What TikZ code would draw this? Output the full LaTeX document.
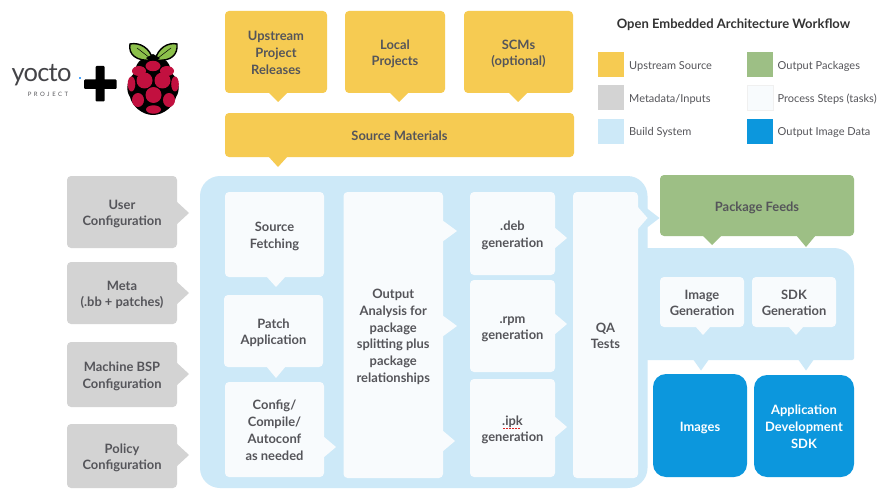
\documentclass[tikz,border=0pt]{standalone}
\usepackage{fontspec}
\setmainfont{Lato}
\usetikzlibrary{calc}
\definecolor{cyellow}{HTML}{F6CB52}
\definecolor{cgray}{HTML}{D3D3D3}
\definecolor{cblue}{HTML}{CDE9F8}
\definecolor{cwhite}{HTML}{F8FBFD}
\definecolor{cgreen}{HTML}{9DBF85}
\definecolor{cimg}{HTML}{0C97DD}
\definecolor{ctxt}{HTML}{55555A}
\definecolor{cleaf}{HTML}{8CC04B}
\definecolor{cberry}{HTML}{C2103F}
\definecolor{cspell}{HTML}{E02020}
\tikzset{
  x=1pt,y=-1pt,
  boxbase/.style={rounded corners=4pt,inner sep=0pt,align=center,text=ctxt,
    font=\fontsize{12.9}{16.8}\selectfont\bfseries},
  yellowbox/.style={boxbase,fill=cyellow},
  graybox/.style={boxbase,fill=cgray},
  whitebox/.style={boxbase,fill=cwhite},
  greenbox/.style={boxbase,fill=cgreen},
  imgbox/.style={boxbase,fill=cimg,text=white,rounded corners=13pt},
  swatch/.style={inner sep=0pt,minimum width=26pt,minimum height=25pt},
  legtext/.style={anchor=west,inner sep=0pt,text=ctxt,font=\fontsize{11}{13}\selectfont},
}
\newcommand{\boxtext}[1]{\raisebox{-5.2pt}[0pt][0pt]{\begin{tabular}{@{}c@{}}#1\end{tabular}}}
% name, x1, y1, x2, y2, style, text
\newcommand{\cbox}[7]{\node[#6,minimum width={(#4-#2)*1pt},minimum height={(#5-#3)*1pt}] (#1) at ({(#2+#4)/2},{(#3+#5)/2}) {\boxtext{#7}};}
% pointer down: colour, x, ybase, ytip, half width
\newcommand{\pdown}[5]{\fill[#1] (#2-#5,#3) -- (#2,#4) -- (#2+#5,#3) -- cycle;}
% pointer right: colour, xbase, xtip, y, half width
\newcommand{\pright}[5]{\fill[#1] (#2,#4-#5) -- (#3,#4) -- (#2,#4+#5) -- cycle;}
\begin{document}
\begin{tikzpicture}
\useasboundingbox (0,0) rectangle (890,500);
\fill[white] (0,0) rectangle (890,500);

% logos
\node[inner sep=0pt,text=ctxt!80!black,font=\fontsize{25.5}{26}\selectfont\addfontfeatures{LetterSpace=-3}] (yocto) at (41.5,75.5) {yocto};
\node[inner sep=0pt,text=ctxt,font=\fontsize{6}{6}\selectfont\addfontfeatures{LetterSpace=42}] (yproject) at (48,94) {PROJECT};
\fill[blue!50!cyan!70] (79,77) rectangle (81,79.5);
\fill[black,rounded corners=1pt] (84,79.5) rectangle (116.5,89) (95.5,66) rectangle (104.5,101.5);
% raspberry
\begin{scope}
\fill[black] (153,56) .. controls (140,56) and (134,66) .. (136,72) .. controls (127,78) and (125,90) .. (130,97)
  .. controls (132,106) and (142,115) .. (153,115) .. controls (164,115) and (174,106) .. (176,97)
  .. controls (181,90) and (179,78) .. (170,72) .. controls (172,66) and (166,56) .. (153,56) -- cycle;
\fill[cleaf,draw=black,line width=1.4pt] (153,60) .. controls (150,48) and (140,42) .. (130,44) .. controls (128,54) and (136,62) .. (153,60) -- cycle;
\fill[cleaf,draw=black,line width=1.4pt] (155,60) .. controls (158,48) and (168,42) .. (177,44) .. controls (178,54) and (172,62) .. (155,60) -- cycle;
\draw[black,line width=.5pt] (137,48) -- (150,58) (171,48) -- (158,58);
\fill[black] (146,58) -- (153,54) -- (160,58) -- (153,64) -- cycle;
\fill[cberry] (153,66) ellipse (7.5 and 5.2);
\fill[cberry] (139,71) ellipse (7 and 5);
\fill[cberry] (167,71) ellipse (7 and 5);
\fill[cberry] (144.5,80.5) circle (8);
\fill[cberry] (162.5,80.5) circle (8);
\fill[cberry] (131.5,84) ellipse (3.8 and 7.5);
\fill[cberry] (175,84) ellipse (3.8 and 7.5);
\fill[cberry] (153.5,95) circle (8);
\fill[cberry] (138,100) ellipse (6 and 7);
\fill[cberry] (169,100) ellipse (6 and 7);
\fill[cberry] (153.5,109.5) ellipse (7.5 and 4.2);
\end{scope}

% top row
\pdown{cyellow}{278}{92}{102}{10}
\pdown{cyellow}{399}{92}{102}{10}
\pdown{cyellow}{518}{92}{102}{10}
\pdown{cyellow}{278}{156}{167}{10}
\cbox{upstream}{225}{11}{327}{93}{yellowbox}{Upstream\\Project\\Releases}
\cbox{local}{345}{11}{445}{93}{yellowbox}{Local\\Projects}
\cbox{scms}{464}{11}{573}{93}{yellowbox}{SCMs\\(optional)}
\cbox{materials}{225}{113}{574}{157}{yellowbox}{Source Materials}

% inputs
\pright{cgray}{176}{189}{213}{12}
\pright{cgray}{176}{189}{293}{12}
\pright{cgray}{176}{189}{374}{12}
\pright{cgray}{176}{189}{455}{12}
\cbox{user}{67}{176}{177}{248}{graybox}{User\\Configuration}
\cbox{meta}{67}{262}{177}{324}{graybox}{Meta\\(.bb + patches)}
\cbox{machine}{67}{342}{177}{407}{graybox}{Machine BSP\\Configuration}
\cbox{policy}{67}{424}{177}{488}{graybox}{Policy\\Configuration}

% build system panels
\pright{cblue}{640}{659.5}{218}{15}
\pdown{cblue}{701}{355}{370.5}{11}
\pdown{cblue}{806}{355}{370.5}{11}
\fill[cblue,rounded corners=20pt] (640,248) -- (854,248) -- (854,300) [rounded corners=2pt] -- (854,360) -- (640,360) -- cycle;
\node[fill=cblue,rounded corners=20pt,inner sep=0pt,minimum width=447.5pt,minimum height=312pt] (build) at (423.75,332) {};

% process steps
\pdown{cwhite}{276}{276}{287}{10}
\pdown{cwhite}{276}{366}{378}{10}
\pright{cwhite}{323}{336}{447}{11}
\pright{cwhite}{442}{457}{231}{11}
\pright{cwhite}{442}{457}{326}{11}
\pright{cwhite}{442}{455}{441}{11}
\pright{cwhite}{554}{567}{238}{11}
\pright{cwhite}{554}{567}{324}{11}
\pright{cwhite}{554}{567}{427}{11}
\pright{cwhite}{637}{647.5}{218}{12}
\cbox{fetch}{225}{192}{324}{277}{whitebox}{Source\\Fetching}
\cbox{patch}{224}{295}{323}{367}{whitebox}{Patch\\Application}
\cbox{config}{225}{382}{324}{477}{whitebox}{Config/\\Compile/\\Autoconf\\as needed}
\cbox{analysis}{343.5}{192}{443}{478}{whitebox}{Output\\Analysis for\\package\\splitting plus\\package\\relationships}
\cbox{deb}{470}{192}{555}{275}{whitebox}{.deb\\generation}
\cbox{rpm}{470}{280}{555}{372}{whitebox}{.rpm\\generation}
\cbox{ipk}{470}{379}{555}{477}{whitebox}{.ipk\\generation}
\draw[cspell,line width=1pt,dash pattern=on 2pt off 1pt] (503,428) -- (521,428);
\cbox{qa}{573}{192}{638}{478}{whitebox}{QA\\Tests}

% package feeds
\pdown{cgreen}{712}{235}{245}{10}
\pdown{cgreen}{806}{235}{247}{10}
\cbox{feeds}{660}{175}{854}{236}{greenbox}{Package Feeds}

% image / sdk generation
\pdown{cwhite}{703}{326}{335}{8}
\pdown{cwhite}{796}{326}{335}{8}
\cbox{imagegen}{660}{277}{744}{327}{whitebox}{Image\\Generation}
\cbox{sdkgen}{752}{277}{836}{327}{whitebox}{SDK\\Generation}

% outputs
\cbox{images}{653}{374}{747}{477}{imgbox}{Images}
\cbox{appsdk}{754}{375}{854}{477}{imgbox}{Application\\Development\\SDK}

% legend
\node[inner sep=0pt,text=black!80,font=\fontsize{13}{15}\selectfont\bfseries] (legendtitle) at (733.5,25) {Open Embedded Architecture Workflow};
\node[swatch,fill=cyellow] (s1) at (611,64.5) {};
\node[swatch,fill=cgray] (s2) at (611,97.5) {};
\node[swatch,fill=cblue] (s3) at (611,131) {};
\node[swatch,fill=cgreen] (s4) at (760,64.5) {};
\node[swatch,fill=cwhite,draw=black!6,line width=.5pt] (s5) at (760,97.5) {};
\node[swatch,fill=cimg] (s6) at (760,131) {};
\node[legtext] (l1) at (629,66) {Upstream Source};
\node[legtext] (l2) at (629,99.5) {Metadata/Inputs};
\node[legtext] (l3) at (629,132.5) {Build System};
\node[legtext] (l4) at (777.5,66) {Output Packages};
\node[legtext] (l5) at (777.5,99.5) {Process Steps (tasks)};
\node[legtext] (l6) at (777.5,132.5) {Output Image Data};
\end{tikzpicture}
\end{document}
